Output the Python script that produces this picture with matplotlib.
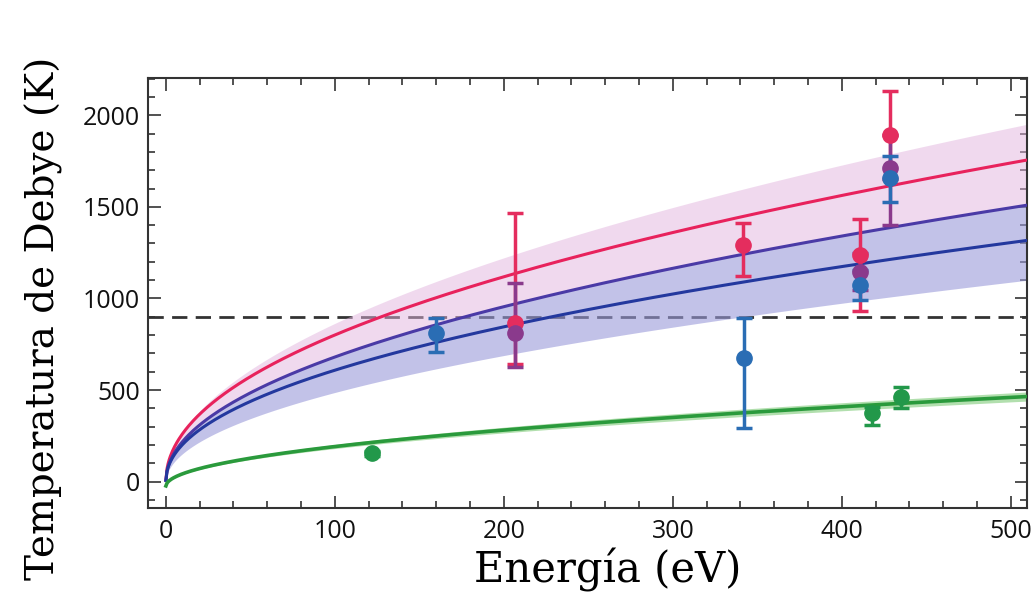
import numpy as np
import matplotlib.pyplot as plt
from matplotlib.ticker import MultipleLocator

# fit curves T = a * E**p + b
red_fit = (87.0, 0.482, 0.0)
purple_fit = (71.6, 0.489, 0.0)
blue_fit = (68.6, 0.474, 0.0)
green_fit = (21.7, 0.5, -25.0)

# uncertainty bands (coefficient of sqrt(E))
pink_band_hi = 86.4
lav_band_lo = 48.7
green_band = (20.6, 22.8)

t_ref = 900  # horizontal dashed reference

# measurements
red_E = [206.5, 341.6, 410.7, 428.4]
red_T = [864, 1291, 1236, 1891]
red_lo = [224, 169, 303, 240]
red_hi = [604, 119, 196, 242]

purple_E = [206.5, 410.7, 428.4]
purple_T = [810, 1146, 1710]
purple_lo = [184, 100, 310]
purple_hi = [273, 100, 180]

blue_E = [159.8, 342.0, 410.7, 428.4]
blue_T = [810, 673, 1073, 1655]
blue_lo = [101, 382, 82, 127]
blue_hi = [81, 218, 80, 125]

green_E = [122.0, 418.0, 435.0]
green_T = [155, 373, 464]
green_lo = [12, 64, 64]
green_hi = [12, 36, 54]

xticks = [0, 100, 200, 300, 400, 500]
yticks = [0, 500, 1000, 1500, 2000]


def curve(fit, e):
    a, p, b = fit
    return a * e ** p + b


plt.rcParams['font.family'] = ['Open Sans', 'DejaVu Sans']
fig = plt.figure(figsize=(10.32, 6.11), dpi=100)
ax = fig.add_axes([0.1434, 0.169, 0.8516, 0.703])

e = np.linspace(0.01, 515, 800)
se = np.sqrt(e)

ax.axhline(t_ref, color='#333333', lw=2, dashes=(5.5, 3), zorder=1)

ax.fill_between(e, curve(purple_fit, e), pink_band_hi * se, color='#e2b4de', alpha=0.5, lw=0, zorder=2)
ax.fill_between(e, lav_band_lo * se, curve(purple_fit, e), color='#9a9ada', alpha=0.6, lw=0, zorder=2)
ax.fill_between(e, green_band[0] * se - 25, green_band[1] * se - 25, color='#9fd89a', alpha=0.8, lw=0, zorder=2)

ax.plot(e, curve(red_fit, e), color='#e8225c', lw=2.2, zorder=3)
ax.plot(e, curve(purple_fit, e), color='#4a3aa6', lw=2.2, zorder=3)
ax.plot(e, curve(blue_fit, e), color='#23389e', lw=2.2, zorder=3)
ax.plot(e, curve(green_fit, e), color='#2a9a3c', lw=2.6, zorder=3)

style = dict(fmt='o', ms=11, elinewidth=2.5, capsize=6, capthick=2.5, zorder=4)
ax.errorbar(red_E, red_T, yerr=[red_lo, red_hi], color='#e42d5e', **style)
ax.errorbar(purple_E, purple_T, yerr=[purple_lo, purple_hi], color='#8a3a8c', **style)
ax.errorbar(blue_E, blue_T, yerr=[blue_lo, blue_hi], color='#2a6db4', **style)
ax.errorbar(green_E, green_T, yerr=[green_lo, green_hi], color='#22984a', **style)

ax.set_xlim(-10.6, 509.5)
ax.set_ylim(-142, 2202)
ax.set_xticks(xticks)
ax.set_yticks(yticks)
ax.xaxis.set_minor_locator(MultipleLocator(20))
ax.yaxis.set_minor_locator(MultipleLocator(100))
ax.tick_params(which='both', direction='in', top=True, right=True, width=1.2, colors='#333333',
               labelcolor='#111111', labelsize=18)
ax.tick_params(which='major', length=9)
ax.tick_params(which='minor', length=5)
ax.tick_params(axis='x', pad=8)
ax.tick_params(axis='y', pad=6)
for s in ax.spines.values():
    s.set_linewidth(1.5)
    s.set_color('#333333')

ax.set_xlabel('Energía (eV)', family='DejaVu Serif', fontsize=30)
ax.set_ylabel('Temperatura de Debye (K)', family='DejaVu Serif', fontsize=28)
ax.xaxis.set_label_coords(0.523, -0.093)
ax.yaxis.set_label_coords(-0.097, 0.44)

plt.savefig('out.png', dpi=100)
